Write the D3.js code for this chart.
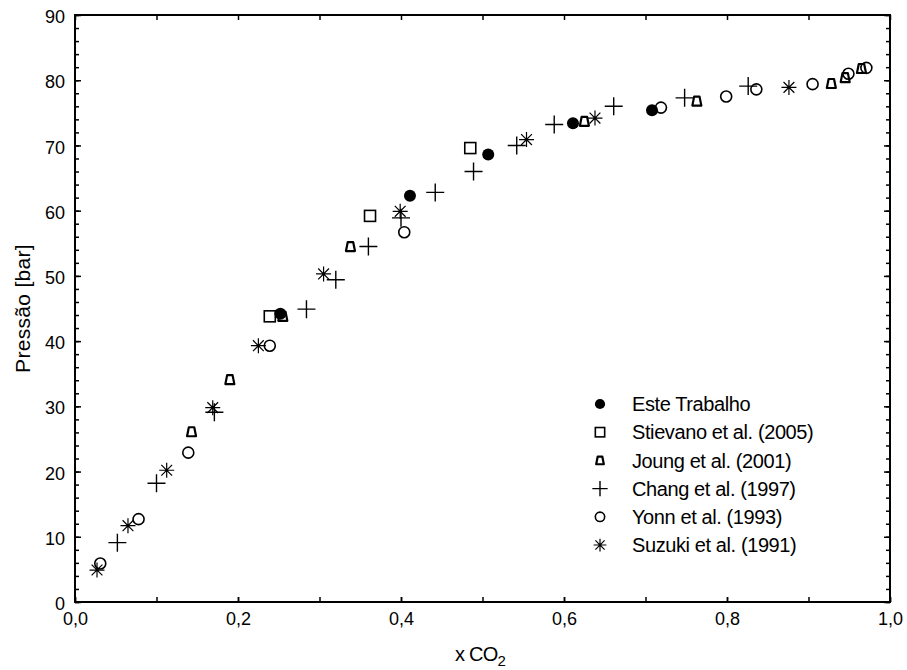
<!DOCTYPE html>
<html><head><meta charset="utf-8">
<script src="https://cdn.jsdelivr.net/npm/d3@7"></script>
<style>
html,body{margin:0;padding:0;background:#fff;}
text{font-family:"Liberation Sans",Arial,sans-serif;fill:#000;}
</style></head>
<body><svg id="c" width="907" height="670"></svg>
<script>
const xTicks = [0,0.2,0.4,0.6,0.8,1.0];
const yTicks = [0,10,20,30,40,50,60,70,80,90];
const seriesNames = ["Este Trabalho","Stievano et al. (2005)","Joung et al. (2001)","Chang et al. (1997)","Yonn et al. (1993)","Suzuki et al. (1991)"];
const esteTrabalho = [[0.252,44.2],[0.411,62.3],[0.507,68.6],[0.611,73.4],[0.708,75.4]];
const stievano = [[0.239,43.8],[0.362,59.2],[0.485,69.6]];
const joung = [[0.143,26.1],[0.190,34.1],[0.255,43.8],[0.338,54.5],[0.625,73.7],[0.763,76.8],[0.928,79.5],[0.945,80.4],[0.965,81.8]];
const chang = [[0.052,9.1],[0.100,18.2],[0.171,29.1],[0.284,44.9],[0.320,49.4],[0.360,54.5],[0.400,58.9],[0.442,62.8],[0.489,66.0],[0.542,70.0],[0.588,73.2],[0.661,76.0],[0.748,77.3],[0.826,79.1]];
const yonn = [[0.031,5.9],[0.078,12.7],[0.139,22.9],[0.239,39.3],[0.404,56.7],[0.719,75.8],[0.799,77.5],[0.836,78.6],[0.905,79.4],[0.949,81.0],[0.971,81.9]];
const suzuki = [[0.027,4.9],[0.065,11.7],[0.1125,20.2],[0.169,29.8],[0.225,39.3],[0.305,50.3],[0.399,59.9],[0.554,70.9],[0.638,74.2],[0.876,78.9]];

const svg = d3.select("#c");
const L=75,R=890,T=15,B=602;
const x = d3.scaleLinear().domain([0,1]).range([L,R]);
const y = d3.scaleLinear().domain([0,90]).range([B,T]);

const minorY = d3.range(0,91,2);
const minorX = d3.range(0,1.0001,0.1);
function styleAxis(g){ g.select(".domain").remove(); g.selectAll("line").attr("stroke","#000").attr("stroke-width",1.5); }
svg.append("g").attr("transform",`translate(${L},0)`).call(d3.axisLeft(y).tickValues(minorY).tickSize(-4).tickFormat("")).call(styleAxis);
svg.append("g").attr("transform",`translate(${L},0)`).call(d3.axisLeft(y).tickValues(yTicks).tickSize(-6).tickPadding(10).tickFormat(d3.format("d")))
  .call(styleAxis).call(g=>g.selectAll("text").attr("font-size",18).attr("dy","0.42em"));
svg.append("g").attr("transform",`translate(${R},0)`).call(d3.axisRight(y).tickValues(minorY).tickSize(-4).tickFormat("")).call(styleAxis);
svg.append("g").attr("transform",`translate(${R},0)`).call(d3.axisRight(y).tickValues(yTicks).tickSize(-6).tickFormat("")).call(styleAxis);
svg.append("g").attr("transform",`translate(0,${B})`).call(d3.axisBottom(x).tickValues(minorX).tickSize(-5).tickFormat("")).call(styleAxis);
svg.append("g").attr("transform",`translate(0,${B})`).call(d3.axisBottom(x).tickValues(xTicks).tickSize(-5).tickPadding(10).tickFormat(d=>d3.format(".1f")(d).replace(".",",")))
  .call(styleAxis).call(g=>g.selectAll("text").attr("font-size",18));
svg.append("g").attr("transform",`translate(0,${T})`).call(d3.axisTop(x).tickValues(minorX).tickSize(-5).tickFormat("")).call(styleAxis);

svg.append("rect").attr("x",L).attr("y",T).attr("width",R-L).attr("height",B-T)
  .attr("fill","none").attr("stroke","#000").attr("stroke-width",2);

function drawSym(g,type,s){
  if(type===0){ g.append("circle").attr("r",6*s).attr("fill","#000"); }
  else if(type===1){ const a=5.5*s; g.append("rect").attr("x",-a).attr("y",-a).attr("width",2*a).attr("height",2*a).attr("fill","none").attr("stroke","#000").attr("stroke-width",1.6); }
  else if(type===2){ const a=4.5*s; g.append("path").attr("d",`M${-a*0.6},${-a}L${a*0.6},${-a}L${a},${a}L${-a},${a}Z`).attr("fill","none").attr("stroke","#000").attr("stroke-width",2.2).attr("stroke-linejoin","round"); }
  else if(type===3){ const a=9*s; g.append("path").attr("d",`M${-a},0L${a},0M0,${-a}L0,${a}`).attr("stroke","#000").attr("stroke-width",1.4); }
  else if(type===4){ g.append("circle").attr("r",5.5*s).attr("fill","none").attr("stroke","#000").attr("stroke-width",1.6); }
  else if(type===5){ const a=7.5*s, d=a*0.72; g.append("path").attr("d",`M${-a},0L${a},0M0,${-a}L0,${a}M${-d},${-d}L${d},${d}M${-d},${d}L${d},${-d}`).attr("stroke","#000").attr("stroke-width",1.2); }
}
const allSeries=[esteTrabalho,stievano,joung,chang,yonn,suzuki];
[5,4,3,2,1,0].forEach(i=>{
  const gs=svg.append("g");
  allSeries[i].forEach(p=>{
    const g=gs.append("g").attr("transform",`translate(${x(p[0])},${y(p[1])})`);
    drawSym(g,i,1);
  });
});

const leg=svg.append("g");
const legY = d3.scaleLinear().domain([0,5]).range([404,545]);
seriesNames.forEach((n,i)=>{
  const g=leg.append("g").attr("transform",`translate(600,${legY(i)})`);
  drawSym(g,i,0.85);
  leg.append("text").attr("x",632).attr("y",legY(i)).attr("dy","0.36em").attr("font-size",20).attr("letter-spacing","-0.4").text(n);
});

svg.append("text").attr("transform",`translate(30,${(T+B)/2}) rotate(-90)`).attr("text-anchor","middle").attr("font-size",21).attr("letter-spacing","0.3").text("Pressão [bar]");
const xt=svg.append("text").attr("x",480).attr("y",661).attr("text-anchor","middle").attr("font-size",20).attr("letter-spacing","-0.8");
xt.append("tspan").text("x CO");
xt.append("tspan").attr("font-size",15).attr("dy",5).text("2");
</script></body></html>
